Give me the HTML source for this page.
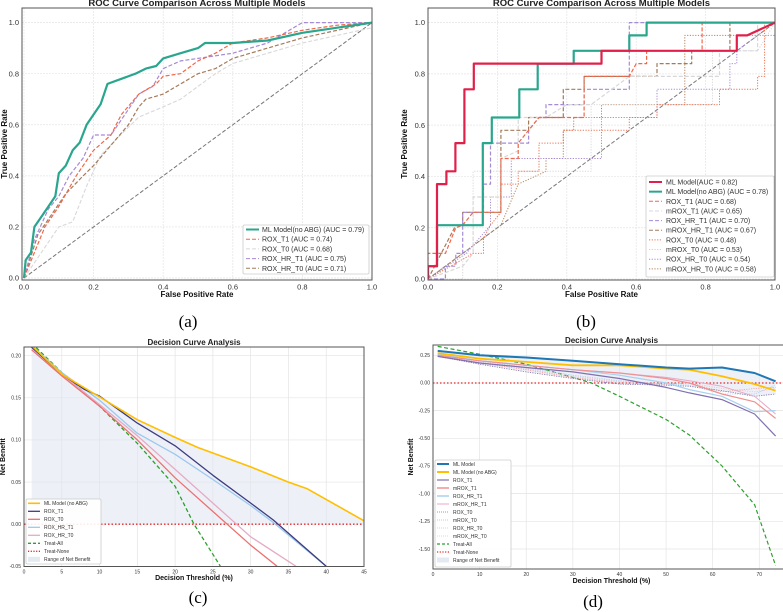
<!DOCTYPE html>
<html><head><meta charset="utf-8">
<style>
html,body{margin:0;padding:0;background:#fff;}
svg{display:block;font-family:"Liberation Sans",sans-serif;}
.cap{font-family:"Liberation Serif",serif;font-size:17px;}
</style></head>
<body>
<svg id="fig" width="783" height="612" viewBox="0 0 783 612" xmlns="http://www.w3.org/2000/svg">
<text class="cap" x="188" y="327" text-anchor="middle">(a)</text>
<text class="cap" x="586" y="327" text-anchor="middle">(b)</text>
<text class="cap" x="198" y="603" text-anchor="middle">(c)</text>
<text class="cap" x="593" y="607" text-anchor="middle">(d)</text>
</svg>
<script>
// ---------- Panel A data ----------
const aNames=["ML Model(no ABG) (AUC = 0.79)","ROX_T1 (AUC = 0.74)","ROX_T0 (AUC = 0.68)","ROX_HR_T1 (AUC = 0.75)","ROX_HR_T0 (AUC = 0.71)"];
const aML_fpr=[0,0.005,0.02,0.03,0.05,0.07,0.09,0.1,0.12,0.14,0.16,0.18,0.2,0.22,0.24,0.28,0.32,0.35,0.38,0.4,0.45,0.5,0.52,0.6,0.7,0.8,0.9,1];
const aML_tpr=[0,0.07,0.1,0.2,0.24,0.28,0.32,0.41,0.44,0.5,0.53,0.6,0.64,0.68,0.76,0.78,0.8,0.82,0.83,0.86,0.88,0.9,0.92,0.92,0.93,0.96,0.98,1];
const aT1_fpr=[0,0.03,0.06,0.1,0.15,0.2,0.25,0.28,0.33,0.38,0.4,0.45,0.5,0.55,0.6,0.7,0.8,0.9,1];
const aT1_tpr=[0,0.1,0.2,0.28,0.4,0.5,0.56,0.64,0.72,0.76,0.79,0.8,0.85,0.88,0.92,0.94,0.97,0.99,1];
const aT0_fpr=[0,0.05,0.1,0.14,0.18,0.22,0.27,0.33,0.4,0.45,0.5,0.55,0.6,0.7,0.8,0.9,1];
const aT0_tpr=[0,0.1,0.2,0.22,0.36,0.48,0.55,0.63,0.67,0.7,0.75,0.8,0.84,0.88,0.92,0.95,0.98];
const aHT1_fpr=[0,0.03,0.07,0.1,0.13,0.17,0.2,0.25,0.3,0.33,0.37,0.4,0.45,0.5,0.6,0.7,0.75,0.8,1];
const aHT1_tpr=[0,0.15,0.27,0.32,0.4,0.47,0.56,0.56,0.66,0.72,0.75,0.82,0.85,0.86,0.88,0.92,0.96,1,1];
const aHT0_fpr=[0,0.04,0.08,0.12,0.17,0.2,0.25,0.3,0.33,0.35,0.4,0.45,0.5,0.55,0.6,0.7,0.8,0.9,1];
const aHT0_tpr=[0,0.17,0.25,0.33,0.4,0.44,0.52,0.6,0.67,0.7,0.72,0.76,0.8,0.82,0.86,0.9,0.94,0.97,1];
const rocTicks=[0,0.2,0.4,0.6,0.8,1.0];

// ---------- Panel B data ----------
const bNames=["ML Model(AUC = 0.82)","ML Model(no ABG) (AUC = 0.78)","ROX_T1 (AUC = 0.68)","mROX_T1 (AUC = 0.65)","ROX_HR_T1 (AUC = 0.70)","mROX_HR_T1 (AUC = 0.67)","ROX_T0 (AUC = 0.48)","mROX_T0 (AUC = 0.53)","ROX_HR_T0 (AUC = 0.54)","mROX_HR_T0 (AUC = 0.58)"];
const bML_fpr=[0,0,0.026,0.026,0.053,0.053,0.079,0.079,0.105,0.105,0.132,0.132,0.5,0.5,0.89,0.89,0.92,1];
const bML_tpr=[0,0.05,0.05,0.37,0.37,0.42,0.42,0.53,0.53,0.74,0.74,0.84,0.84,0.89,0.89,0.95,0.95,1];
const bNA_fpr=[0,0,0.026,0.026,0.158,0.158,0.184,0.184,0.263,0.263,0.316,0.316,0.42,0.42,0.58,0.58,0.63,0.63,1];
const bNA_tpr=[0,0.05,0.05,0.21,0.21,0.53,0.53,0.63,0.63,0.74,0.74,0.84,0.84,0.89,0.89,0.95,0.95,1,1];
const bT1_fpr=[0,0,0.05,0.08,0.1,0.13,0.21,0.21,0.26,0.26,0.29,0.32,0.45,0.45,0.58,0.6,0.63,0.63,0.79,0.79,1];
const bT1_tpr=[0,0.1,0.1,0.2,0.21,0.26,0.26,0.47,0.47,0.53,0.58,0.63,0.63,0.79,0.79,0.84,0.84,0.89,0.89,1,1];
const bmT1_fpr=[0,0.1,0.13,0.13,0.21,0.21,0.26,0.26,0.34,0.4,0.47,0.58,0.84,0.84,0.95,0.95,1];
const bmT1_tpr=[0,0.05,0.1,0.32,0.32,0.47,0.5,0.63,0.63,0.68,0.68,0.79,0.79,0.89,0.89,1,1];
const bHT1_fpr=[0,0.05,0.05,0.08,0.08,0.1,0.1,0.16,0.16,0.18,0.18,0.29,0.29,0.32,0.34,0.34,0.45,0.45,0.58,0.58,1];
const bHT1_tpr=[0,0,0.05,0.05,0.1,0.1,0.26,0.26,0.37,0.37,0.53,0.53,0.58,0.63,0.63,0.68,0.68,0.74,0.74,1,1];
const bmHT1_fpr=[0,0.08,0.1,0.1,0.21,0.21,0.29,0.29,0.39,0.39,0.45,0.45,0.66,0.66,0.76,0.76,0.87,0.87,1];
const bmHT1_tpr=[0,0.21,0.21,0.26,0.26,0.58,0.58,0.63,0.63,0.74,0.74,0.79,0.79,0.84,0.84,0.89,0.89,1,1];
const bT0_fpr=[0,0.13,0.16,0.16,0.18,0.21,0.21,0.26,0.26,0.32,0.32,0.39,0.39,0.58,0.58,0.66,0.66,0.84,0.84,0.95,0.95,0.97,0.97,1];
const bT0_tpr=[0,0.1,0.1,0.16,0.21,0.26,0.37,0.37,0.42,0.42,0.53,0.53,0.58,0.58,0.63,0.63,0.68,0.68,0.74,0.74,0.79,0.79,1,1];
const bmT0_fpr=[0,0.1,0.1,0.13,0.13,0.47,0.47,0.82,0.82,0.95,1];
const bmT0_tpr=[0,0,0.1,0.1,0.42,0.42,0.68,0.68,0.89,0.89,1];
const bHT0_fpr=[0,0.11,0.18,0.18,0.24,0.24,0.5,0.5,0.66,0.66,0.87,0.87,0.89,0.89,0.95,1];
const bHT0_tpr=[0,0.1,0.21,0.32,0.32,0.47,0.47,0.63,0.63,0.74,0.74,0.84,0.84,0.89,0.95,0.95];
const bmHT0_fpr=[0,0.16,0.21,0.26,0.34,0.34,0.39,0.39,0.42,0.42,0.5,0.5,0.74,0.74,0.95,1];
const bmHT0_tpr=[0,0.16,0.21,0.37,0.42,0.47,0.47,0.58,0.58,0.63,0.63,0.68,0.68,0.95,0.95,1];

// ---------- Panel C data ----------
const cNames=["ML Model (no ABG)","ROX_T1","ROX_T0","ROX_HR_T1","ROX_HR_T0","Treat-All","Treat-None","Range of Net Benefit"];
const cML_x=[1,5,10,15,20,23,30,35,37.5,45];
const cML_y=[0.212,0.178,0.151,0.124,0.103,0.091,0.068,0.05,0.042,0.004];
const cT1_x=[1,5,8,10,15,20,25,30,33,40];
const cT1_y=[0.21,0.178,0.16,0.152,0.12,0.093,0.058,0.025,0.005,-0.05];
const cT0_x=[1,5,10,15,20,25,30,33.5];
const cT0_y=[0.207,0.176,0.14,0.1,0.055,0.015,-0.025,-0.05];
const cHT1_x=[1,5,10,15,20,25,30,33,40];
const cHT1_y=[0.212,0.18,0.147,0.108,0.083,0.053,0.022,0.002,-0.05];
const cHT0_x=[1,5,10,15,20,25,30,36];
const cHT0_y=[0.21,0.178,0.142,0.105,0.065,0.025,-0.015,-0.05];
const cAll_x=[1,5,10,15,20,22.5,26];
const cAll_y=[0.215,0.18,0.14,0.096,0.045,0.0,-0.05];
const cXTicks=[0,5,10,15,20,25,30,35,40,45];
const cYTicks=[-0.05,0.00,0.05,0.10,0.15,0.20];

// ---------- Panel D data ----------
const dNames=["ML Model","ML Model (no ABG)","ROX_T1","mROX_T1","ROX_HR_T1","mROX_HR_T1","ROX_T0","mROX_T0","ROX_HR_T0","mROX_HR_T0","Treat-All","Treat-None","Range of Net Benefit"];
const dX=[1,10,20,30,40,50,55,62,69,73.5];
const dML=[0.29,0.25,0.23,0.2,0.17,0.14,0.13,0.14,0.09,0.015];
const dNA=[0.27,0.22,0.19,0.16,0.16,0.13,0.12,0.06,-0.01,-0.07];
const dT1=[0.24,0.18,0.14,0.1,0.04,-0.04,-0.09,-0.15,-0.28,-0.48];
const dmT1=[0.25,0.2,0.16,0.12,0.09,0.04,0.0,-0.1,-0.17,-0.32];
const dHT1=[0.26,0.2,0.16,0.12,0.07,0.0,-0.06,-0.12,-0.26,-0.25];
const dmHT1=[0.25,0.2,0.16,0.12,0.09,0.05,0.02,-0.03,-0.12,-0.28];
const dT0=[0.24,0.17,0.1,0.04,-0.01,-0.02,-0.03,-0.07,-0.12,-0.1];
const dmT0=[0.25,0.18,0.12,0.05,0.0,-0.01,0.0,-0.08,-0.05,-0.04];
const dHT0=[0.26,0.2,0.14,0.07,0.02,-0.01,-0.02,-0.1,-0.1,-0.02];
const dmHT0=[0.25,0.19,0.13,0.06,0.01,-0.01,0.0,-0.05,-0.08,-0.05];
const dAll_x=[1,10,20,30,34,40,50,55,62,69,73.5];
const dAll_y=[0.33,0.26,0.17,0.05,0.0,-0.12,-0.33,-0.47,-0.75,-1.1,-1.65];
const dXTicks=[0,10,20,30,40,50,60,70];
const dYTicks=[-1.50,-1.25,-1.00,-0.75,-0.50,-0.25,0.00,0.25];

const NS="http://www.w3.org/2000/svg";
const svg=document.getElementById('fig');
function mk(tag,attrs,parent){const e=document.createElementNS(NS,tag);for(const k in attrs)e.setAttribute(k,attrs[k]);(parent||svg).appendChild(e);return e;}
function lin(d0,d1,r0,r1){return v=>r0+(v-d0)*(r1-r0)/(d1-d0);}
function pts(xs,ys,sx,sy){return xs.map((x,i)=>sx(x).toFixed(1)+','+sy(ys[i]).toFixed(1)).join(' ');}

function panel(id,o){
  const g=mk('g',{});
  
  
  const clipId='clip-'+id;
  const cp=mk('clipPath',{id:clipId},g);mk('rect',{x:o.L,y:o.T,width:o.R-o.L,height:o.B-o.T},cp);
  const sx=lin(o.x0,o.x1,o.px0,o.px1), sy=lin(o.y0,o.y1,o.py0,o.py1);
  // grid
  o.xt.forEach(t=>{const l=mk('line',{x1:sx(t),x2:sx(t),y1:o.T,y2:o.B,stroke:'#e4e4e4','stroke-width':0.7,'stroke-dasharray':o.gridDash||'2,1'},g);
    
    const tx=mk('text',{x:sx(t),y:o.B+o.tfs+2,'font-size':o.tfs,'text-anchor':'middle',fill:'#333'},g);tx.textContent=o.xfmt(t);
    });
  o.yt.forEach(t=>{const l=mk('line',{x1:o.L,x2:o.R,y1:sy(t),y2:sy(t),stroke:'#e4e4e4','stroke-width':0.7,'stroke-dasharray':o.gridDash||'2,1'},g);
    
    const tx=mk('text',{x:o.L-3,y:sy(t)+o.tfs*0.35,'font-size':o.tfs,'text-anchor':'end',fill:'#333'},g);tx.textContent=o.yfmt(t);
    });
  const cg=mk('g',{'clip-path':'url(#'+clipId+')'},g);
  return {g,cg,sx,sy};
}
function frame(id,o,g){
  const r=mk('rect',{x:o.L,y:o.T,width:o.R-o.L,height:o.B-o.T,fill:'none',stroke:'#555','stroke-width':1},g);
  
  const t=mk('text',{x:(o.L+o.R)/2,y:o.T-2,'font-size':o.titfs,'font-weight':'bold','text-anchor':'middle',fill:'#222'},g);t.textContent=o.title;
  
  const xl=mk('text',{x:(o.L+o.R)/2,y:o.xly,'font-size':o.lfs,'font-weight':'bold','text-anchor':'middle',fill:'#111'},g);xl.textContent=o.xlabel;
  
  const yl=mk('text',{x:0,y:0,'font-size':o.lfs,'font-weight':'bold','text-anchor':'middle',fill:'#111',transform:'translate('+o.ylx+','+((o.T+o.B)/2)+') rotate(-90)'},g);yl.textContent=o.ylabel;
  
}
function line(parent,xs,ys,P,st,name){
  const p=mk('polyline',{points:pts(xs,ys,P.sx,P.sy),fill:'none',stroke:st.c,'stroke-width':st.w,'stroke-dasharray':st.d||'none','stroke-linejoin':'round'},parent);
  
  
  return p;
}
function legend(id,g,box,items,fs){
  const lg=mk('g',{},g);
  
  
  mk('rect',{x:box.x,y:box.y,width:box.w,height:box.h,fill:'#fff','fill-opacity':0.9,stroke:'#ccc','stroke-width':0.8,rx:1.5},lg);
  items.forEach((it,i)=>{const y=box.r0+i*box.step;
    if(it.fill){mk('rect',{x:box.lx0,y:y-2.5,width:box.lx1-box.lx0,height:5,fill:it.fill},lg);}
    else mk('line',{x1:box.lx0,x2:box.lx1,y1:y,y2:y,stroke:it.c,'stroke-width':it.w,'stroke-dasharray':it.d||'none'},lg);
    const t=mk('text',{x:box.tx,y:y+fs*0.35,'font-size':fs,fill:'#333'},lg);t.textContent=it.n;
    });
}
const f2=t=>t.toFixed(1), f3=t=>t.toFixed(2);

// ===== Panel A =====
(function(){
const o={L:22,R:372,T:8,B:280,x0:0,x1:1,px0:24,px1:372,y0:0,y1:1,py0:278,py1:22.6,xt:rocTicks,yt:rocTicks,tfs:7.5,xfmt:f2,yfmt:f2,title:'ROC Curve Comparison Across Multiple Models',titfs:9.5,xlabel:'False Positive Rate',xly:297,ylabel:'True Positive Rate',ylx:7,lfs:8};
const P=panel('roc-a',o);
line(P.cg,[0,1],[0,1],P,{c:'#777',w:1,d:'4,2'},'diagonal-reference');
line(P.cg,aT0_fpr,aT0_tpr,P,{c:'#d8d8d8',w:1.1,d:'4,2'},'rox-t0-curve');
line(P.cg,aHT0_fpr,aHT0_tpr,P,{c:'#a47a5a',w:1.2,d:'4,2'},'rox-hr-t0-curve');
line(P.cg,aHT1_fpr,aHT1_tpr,P,{c:'#a58ad6',w:1.2,d:'4,2'},'rox-hr-t1-curve');
line(P.cg,aT1_fpr,aT1_tpr,P,{c:'#f0684a',w:1.2,d:'4,2'},'rox-t1-curve');
line(P.cg,aML_fpr,aML_tpr,P,{c:'#2aa68e',w:2.2},'ml-no-abg-curve');
frame('roc-a',o,P.g);
legend('roc-a',P.g,{x:243,y:225,w:126,h:49,r0:229.5,step:9.7,lx0:246,lx1:259,tx:262},[
{n:aNames[0],c:'#2aa68e',w:2},{n:aNames[1],c:'#f0684a',w:1,d:'4,2'},{n:aNames[2],c:'#d8d8d8',w:1,d:'4,2'},{n:aNames[3],c:'#a58ad6',w:1,d:'4,2'},{n:aNames[4],c:'#a47a5a',w:1,d:'4,2'}],7);
})();

// ===== Panel B =====
(function(){
const o={L:428,R:775,T:8,B:280,x0:0,x1:1,px0:428,px1:775,y0:0,y1:1,py0:279,py1:22.6,xt:rocTicks,yt:rocTicks,tfs:7.5,xfmt:f2,yfmt:f2,title:'ROC Curve Comparison Across Multiple Models',titfs:9.5,xlabel:'False Positive Rate',xly:297,ylabel:'True Positive Rate',ylx:407,lfs:8};
const P=panel('roc-b',o);
line(P.cg,[0,1],[0,1],P,{c:'#777',w:1,d:'4,2'},'diagonal-reference');
line(P.cg,bmHT0_fpr,bmHT0_tpr,P,{c:'#b8825a',w:1,d:'1.2,1.5'},'mrox-hr-t0-curve');
line(P.cg,bHT0_fpr,bHT0_tpr,P,{c:'#a58ad6',w:1,d:'1.2,1.5'},'rox-hr-t0-curve');
line(P.cg,bmT0_fpr,bmT0_tpr,P,{c:'#d8d8d8',w:1,d:'1.2,1.5'},'mrox-t0-curve');
line(P.cg,bT0_fpr,bT0_tpr,P,{c:'#f07050',w:1,d:'1.2,1.5'},'rox-t0-curve');
line(P.cg,bmHT1_fpr,bmHT1_tpr,P,{c:'#a47a5a',w:1.2,d:'4,2'},'mrox-hr-t1-curve');
line(P.cg,bHT1_fpr,bHT1_tpr,P,{c:'#a58ad6',w:1.2,d:'4,2'},'rox-hr-t1-curve');
line(P.cg,bmT1_fpr,bmT1_tpr,P,{c:'#d8d8d8',w:1.2,d:'4,2'},'mrox-t1-curve');
line(P.cg,bT1_fpr,bT1_tpr,P,{c:'#f0684a',w:1.2,d:'4,2'},'rox-t1-curve');
line(P.cg,bNA_fpr,bNA_tpr,P,{c:'#2aa68e',w:2.2},'ml-no-abg-curve');
line(P.cg,bML_fpr,bML_tpr,P,{c:'#e0204a',w:2.2},'ml-model-curve');
frame('roc-b',o,P.g);
const st=[{c:'#e0204a',w:2},{c:'#2aa68e',w:2},{c:'#f0684a',w:1,d:'4,2'},{c:'#d8d8d8',w:1,d:'4,2'},{c:'#a58ad6',w:1,d:'4,2'},{c:'#a47a5a',w:1,d:'4,2'},{c:'#f07050',w:1,d:'1.2,1.5'},{c:'#d0d0d0',w:1,d:'1.2,1.5'},{c:'#a58ad6',w:1,d:'1.2,1.5'},{c:'#b8825a',w:1,d:'1.2,1.5'}];
legend('roc-b',P.g,{x:646,y:176,w:128,h:101,r0:182,step:9.65,lx0:649,lx1:662,tx:666},bNames.map((n,i)=>Object.assign({n},st[i])),7);
})();

// ===== Panel C =====
(function(){
const o={L:24,R:364,T:347,B:566.5,x0:0,x1:45,px0:24,px1:364,y0:0.20,y1:-0.05,py0:355.7,py1:566.3,xt:cXTicks,yt:cYTicks,tfs:5,xfmt:t=>String(t),yfmt:f3,title:'Decision Curve Analysis',titfs:8,xlabel:'Decision Threshold (%)',xly:580,ylabel:'Net Benefit',ylx:5,lfs:7,gridDash:'none'};
const P=panel('dca-c',o);
// range of net benefit fill: under ML envelope down to 0
const fx=cML_x.concat([45,1]), fy=cML_y.concat([0,0]);
const fp=mk('polygon',{points:pts(fx,fy,P.sx,P.sy),fill:'#dfe6f0','fill-opacity':0.55},P.cg);


line(P.cg,[0,45],[0,0],P,{c:'#e82828',w:1.3,d:'1.5,2'},'treat-none-line');
line(P.cg,cAll_x,cAll_y,P,{c:'#2ca02c',w:1.3,d:'4,2.5'},'treat-all-line');
line(P.cg,cHT0_x,cHT0_y,P,{c:'#e6aac4',w:1.3},'rox-hr-t0-curve');
line(P.cg,cT0_x,cT0_y,P,{c:'#ee7070',w:1.3},'rox-t0-curve');
line(P.cg,cHT1_x,cHT1_y,P,{c:'#9cc8ee',w:1.3},'rox-hr-t1-curve');
line(P.cg,cT1_x,cT1_y,P,{c:'#3c3c80',w:1.3},'rox-t1-curve');
line(P.cg,cML_x,cML_y,P,{c:'#ffbf00',w:1.6},'ml-no-abg-curve');
frame('dca-c',o,P.g);
const st=[{c:'#ffbf00',w:1.6},{c:'#3c3c80',w:1.3},{c:'#ee7070',w:1.3},{c:'#9cc8ee',w:1.3},{c:'#e6aac4',w:1.3},{c:'#2ca02c',w:1.3,d:'3,2'},{c:'#e82828',w:1.3,d:'1.2,1.5'},{fill:'#e4eaf2'}];
legend('dca-c',P.g,{x:26,y:499,w:75,h:65,r0:503.3,step:8,lx0:28,lx1:40,tx:44},cNames.map((n,i)=>Object.assign({n},st[i])),5);
})();

// ===== Panel D =====
(function(){
const o={L:433,R:790,T:345,B:569,x0:0,x1:70,px0:433,px1:759.3,y0:0.25,y1:-1.5,py0:355.3,py1:549,xt:dXTicks,yt:dYTicks,tfs:5,xfmt:t=>String(t),yfmt:f3,title:'Decision Curve Analysis',titfs:8,xlabel:'Decision Threshold (%)',xly:583,ylabel:'Net Benefit',ylx:413,lfs:7,gridDash:'none'};
const P=panel('dca-d',o);
const fx=dX.concat(dX.slice().reverse()), fy=dML.concat(dT0.slice().reverse());
const fp=mk('polygon',{points:pts(fx,fy,P.sx,P.sy),fill:'#dfe6f0','fill-opacity':0.55},P.cg);


line(P.cg,[0,80],[0,0],P,{c:'#e82828',w:1.3,d:'1.5,2'},'treat-none-line');
line(P.cg,dAll_x,dAll_y,P,{c:'#2ca02c',w:1.2,d:'4,2.5'},'treat-all-line');
line(P.cg,dX,dmHT0,P,{c:'#f0c0d0',w:0.8,d:'1.2,1.2'},'mrox-hr-t0-curve');
line(P.cg,dX,dHT0,P,{c:'#a8d0f0',w:0.8,d:'1.2,1.2'},'rox-hr-t0-curve');
line(P.cg,dX,dmT0,P,{c:'#f0a0a0',w:0.8,d:'1.2,1.2'},'mrox-t0-curve');
line(P.cg,dX,dT0,P,{c:'#8070b0',w:0.8,d:'1.2,1.2'},'rox-t0-curve');
line(P.cg,dX,dmHT1,P,{c:'#e8a8c4',w:1},'mrox-hr-t1-curve');
line(P.cg,dX,dHT1,P,{c:'#a8d0f0',w:1.2},'rox-hr-t1-curve');
line(P.cg,dX,dmT1,P,{c:'#f09090',w:1.2},'mrox-t1-curve');
line(P.cg,dX,dT1,P,{c:'#8070b0',w:1.2},'rox-t1-curve');
line(P.cg,dX,dNA,P,{c:'#ffbf00',w:1.8},'ml-no-abg-curve');
line(P.cg,dX,dML,P,{c:'#1f77b4',w:2},'ml-model-curve');
frame('dca-d',o,P.g);
const st=[{c:'#1f77b4',w:2},{c:'#ffbf00',w:2},{c:'#8070b0',w:1.2},{c:'#f09090',w:1.5},{c:'#a8d0f0',w:1.5},{c:'#e8a8c4',w:1},{c:'#8070b0',w:0.8,d:'1,1'},{c:'#f0a0a0',w:0.8,d:'1,1'},{c:'#a8d0f0',w:0.8,d:'1,1'},{c:'#f0c0d0',w:0.8,d:'1,1'},{c:'#2ca02c',w:1.2,d:'3,2'},{c:'#e82828',w:1.2,d:'1.2,1.5'},{fill:'#e4eaf2'}];
legend('dca-d',P.g,{x:435,y:460,w:76,h:107,r0:464,step:8,lx0:437,lx1:449,tx:453},dNames.map((n,i)=>Object.assign({n},st[i])),5);
})();
</script>
</body></html>
